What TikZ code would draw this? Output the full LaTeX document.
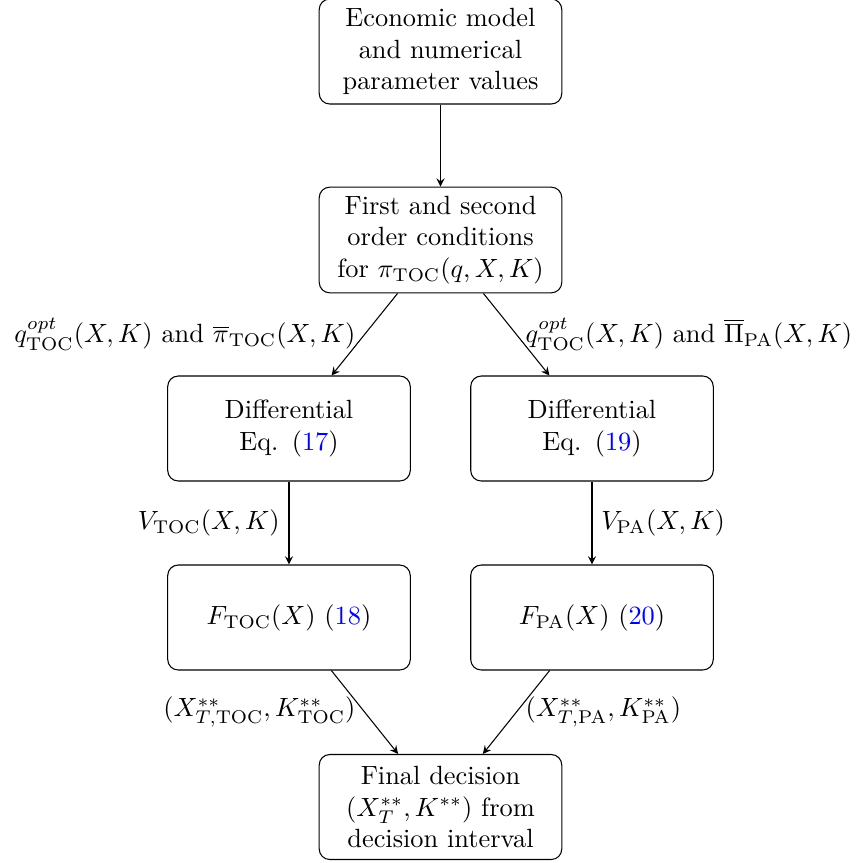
\documentclass[tikz,border=0pt]{standalone}
\usepackage{amsmath}
\usetikzlibrary{arrows}
\begin{document}
\begin{tikzpicture}[x=0.13333mm,y=-0.13333mm,
  box/.style={draw,rounded corners,text width=3cm,align=center,minimum height=1.4cm,inner sep=3.33pt},
  arr/.style={-stealth,thin}]
\useasboundingbox (0,0) rectangle (856,863);
\node[box] (top) at (440.5,51.5) {Economic model\\ and numerical\\ parameter values};
\node[box] (sec) at (440.5,240) {First and second\\ order conditions\\ for $\pi_{\mathrm{TOC}}(q,X,K)$};
\node[box] (d1) at (289,428.5) {Differential\\ Eq. (\textcolor{blue}{17})};
\node[box] (d2) at (592,428.5) {Differential\\ Eq. (\textcolor{blue}{19})};
\node[box] (f1) at (289,617.5) {$F_{\mathrm{TOC}}(X)$ (\textcolor{blue}{18})};
\node[box] (f2) at (592,617.5) {$F_{\mathrm{PA}}(X)$ (\textcolor{blue}{20})};
\node[box] (fin) at (440.5,807) {Final decision\\ $(X_T^{**},K^{**})$ from\\ decision interval};
\draw[arr] (top) -- (sec);
\draw[arr] (sec) -- node[midway,left] {$q^{opt}_{\mathrm{TOC}}(X,K)$ and $\overline{\pi}_{\mathrm{TOC}}(X,K)$} (d1);
\draw[arr] (sec) -- node[midway,right] {$q^{opt}_{\mathrm{TOC}}(X,K)$ and $\overline{\Pi}_{\mathrm{PA}}(X,K)$} (d2);
\draw[arr] (d1) -- node[midway,left] {$V_{\mathrm{TOC}}(X,K)$} (f1);
\draw[arr] (d2) -- node[midway,right] {$V_{\mathrm{PA}}(X,K)$} (f2);
\draw[arr] (f1) -- node[midway,left] {$(X_{T,\mathrm{TOC}}^{**},K_{\mathrm{TOC}}^{**})$} (fin);
\draw[arr] (f2) -- node[midway,right] {$(X_{T,\mathrm{PA}}^{**},K_{\mathrm{PA}}^{**})$} (fin);
\end{tikzpicture}
\end{document}
